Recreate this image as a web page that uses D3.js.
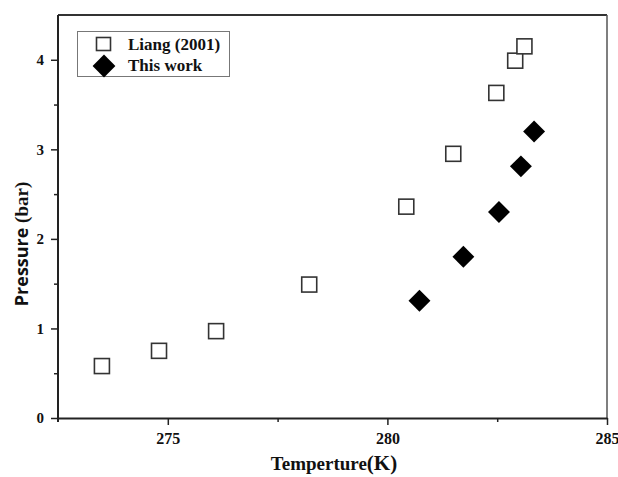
<!DOCTYPE html>
<html><head><meta charset="utf-8">
<script src="https://cdn.jsdelivr.net/npm/d3@7"></script>
<style>body{margin:0;background:#fff}svg{display:block}</style>
</head><body>
<svg id="c" width="618" height="477"></svg>
<script>
const liangT = [273.5, 274.8, 276.1, 278.22, 280.43, 281.5, 282.48, 282.91, 283.12];
const liangP = [0.58, 0.75, 0.97, 1.49, 2.36, 2.95, 3.63, 3.99, 4.15];
const thisT = [280.73, 281.73, 282.54, 283.04, 283.34];
const thisP = [1.31, 1.80, 2.30, 2.81, 3.20];
const xTicks = [275, 280, 285];
const xMinor = [277.5, 282.5];
const yTicks = [0, 1, 2, 3, 4];
const yMinor = [0.5, 1.5, 2.5, 3.5];
const seriesNames = ["Liang (2001)", "This work"];

const svg = d3.select("#c");
const L = 58, R = 607, T = 15, B = 418;
const x = d3.scaleLinear().domain([272.5, 285]).range([L, R]);
const y = d3.scaleLinear().domain([0, 4.5]).range([B, T]);
const serif = "'Liberation Serif','Times New Roman',serif";

// frame top and right
svg.append("line").attr("x1", L).attr("x2", R).attr("y1", T).attr("y2", T).attr("stroke", "#333").attr("stroke-width", 2);
svg.append("line").attr("x1", R).attr("x2", R).attr("y1", T).attr("y2", B).attr("stroke", "#555").attr("stroke-width", 1.5);

// x axis
const xa = svg.append("g").attr("transform", `translate(0,${B})`)
  .call(d3.axisBottom(x).tickValues(xTicks).tickFormat(d3.format("d")).tickSizeInner(7).tickSizeOuter(0).tickPadding(8));
xa.attr("font-family", serif);
xa.select(".domain").attr("stroke", "#222").attr("stroke-width", 2);
xa.selectAll(".tick line").attr("stroke", "#222").attr("stroke-width", 1.5);
xa.selectAll("text").attr("font-family", serif).attr("font-weight", "bold").attr("font-size", 16).attr("fill", "#111");
svg.append("g").attr("transform", `translate(0,${B})`)
  .call(d3.axisBottom(x).tickValues(xMinor).tickFormat("").tickSizeInner(4).tickSizeOuter(0))
  .call(g => { g.select(".domain").remove(); g.selectAll("line").attr("stroke", "#222").attr("stroke-width", 1.5); });

// y axis
const ya = svg.append("g").attr("transform", `translate(${L},0)`)
  .call(d3.axisLeft(y).tickValues(yTicks).tickFormat(d3.format("d")).tickSizeInner(7).tickSizeOuter(0).tickPadding(7));
ya.attr("font-family", serif);
ya.select(".domain").attr("stroke", "#222").attr("stroke-width", 2).attr("d", `M0,${B + 4}V${T}`);
ya.selectAll(".tick line").attr("stroke", "#222").attr("stroke-width", 1.5);
ya.selectAll("text").attr("font-family", serif).attr("font-weight", "bold").attr("font-size", 15).attr("fill", "#111");
svg.append("g").attr("transform", `translate(${L},0)`)
  .call(d3.axisLeft(y).tickValues(yMinor).tickFormat("").tickSizeInner(4).tickSizeOuter(0))
  .call(g => { g.select(".domain").remove(); g.selectAll("line").attr("stroke", "#222").attr("stroke-width", 1.5); });

// axis titles
const xt = svg.append("text").attr("x", 334).attr("y", 470).attr("text-anchor", "middle")
  .attr("font-family", serif).attr("font-weight", "bold").attr("font-size", 19).attr("fill", "#111");
xt.append("tspan").text("Temperture");
xt.append("tspan").attr("font-size", 21).text("(K)");

const yt = svg.append("text").attr("transform", "translate(28,244) rotate(-90)").attr("text-anchor", "middle")
  .attr("font-weight", "bold").attr("font-size", 18).attr("fill", "#111");
yt.append("tspan").attr("font-family", "'Open Sans','Noto Sans',sans-serif").text("Pressure ");
yt.append("tspan").attr("font-family", serif).attr("font-size", 19).text("(bar)");

// data
const sq = 15;
svg.append("g").selectAll("rect").data(liangT.map((t, i) => [t, liangP[i]])).join("rect")
  .attr("x", d => x(d[0]) - sq / 2).attr("y", d => y(d[1]) - sq / 2)
  .attr("width", sq).attr("height", sq).attr("fill", "#fff").attr("stroke", "#333").attr("stroke-width", 1.6);
const diamond = d3.symbol().type(d3.symbolSquare).size(240);
svg.append("g").selectAll("path").data(thisT.map((t, i) => [t, thisP[i]])).join("path")
  .attr("d", diamond).attr("transform", d => `translate(${x(d[0])},${y(d[1])}) rotate(45)`).attr("fill", "#000");

// legend
const lg = svg.append("g");
lg.append("rect").attr("x", 77.5).attr("y", 31.5).attr("width", 152).attr("height", 45)
  .attr("fill", "#fff").attr("stroke", "#777").attr("stroke-width", 1);
lg.append("rect").attr("x", 96.5).attr("y", 37.5).attr("width", 14).attr("height", 13)
  .attr("fill", "#fff").attr("stroke", "#333").attr("stroke-width", 1.6);
lg.append("path").attr("d", d3.symbol().type(d3.symbolSquare).size(260)).attr("transform", "translate(104,66) rotate(45)").attr("fill", "#000");
lg.selectAll("text.l").data(seriesNames).join("text").attr("class", "l")
  .attr("x", 128).attr("y", (d, i) => 50 + i * 21).text(d => d)
  .attr("font-family", serif).attr("font-weight", "bold").attr("font-size", 17).attr("fill", "#111");
</script>
</body></html>
